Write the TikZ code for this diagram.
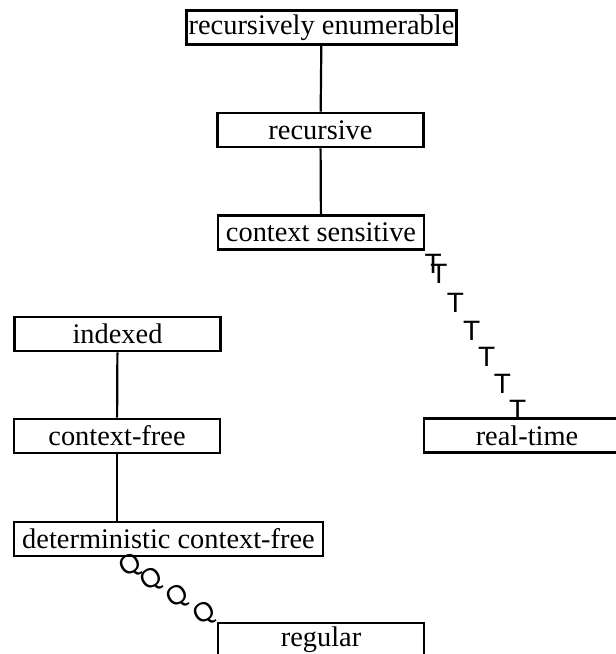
\documentclass[tikz,border=0pt]{standalone}
\usepackage{fontspec}
\setmainfont{Liberation Serif}
\newfontfamily\marksans{Liberation Sans}
\usetikzlibrary{calc}
\begin{document}
\begin{tikzpicture}[x=0.5pt,y=-0.5pt,
  box/.style={draw,line width=1.4pt,minimum width=103pt,minimum height=17pt,
    inner xsep=1.2pt,inner ysep=0pt,font=\fontsize{14.2}{16}\selectfont},
  link/.style={line width=1.1pt},
  tmark/.style={font=\marksans\fontsize{14}{14}\selectfont,inner sep=0pt},
  qmark/.style={font=\marksans\fontsize{13.5}{14}\selectfont,inner sep=0pt,rotate=30}]
\useasboundingbox (0,0) rectangle (616,654);
\clip (0,0) rectangle (616,654);
\node[box] (re)  at (321.5,27.5) {recursively enumerable};
\node[box] (rec) at (320.5,130)  {recursive};
\node[box] (cs)  at (321,232.5)  {context sensitive};
\node[box] (idx) at (117.5,334)  {indexed};
\node[box] (cf)  at (117,436)    {context-free};
\node[box,minimum width=154.5pt] (dcf) at (168.5,539)  {deterministic context-free};
\node[box] (rt)  at (527,435.5)  {real-time};
\node[box] (reg) at (321,640)    {regular};
\draw[link] (re) -- (rec);
\draw[link] (rec) -- (cs);
\draw[link] (idx) -- (cf);
\draw[link] (cf.south) -- (cf.south |- dcf.north);
\path (cs.south east) -- ($(rt.north)+(-5,0)$)
  node[tmark,pos=0.08] {T}
  node[tmark,pos=0.14] {T}
  node[tmark,pos=0.31] {T}
  node[tmark,pos=0.48] {T}
  node[tmark,pos=0.635] {T}
  node[tmark,pos=0.797] {T}
  node[tmark,pos=0.955] {T};
\path (cf.south |- dcf.south) -- (reg.north west)
  node[qmark,pos=0.14] {Q}
  node[qmark,pos=0.355] {Q}
  node[qmark,pos=0.615] {Q}
  node[qmark,pos=0.885] {Q};
\end{tikzpicture}
\end{document}
